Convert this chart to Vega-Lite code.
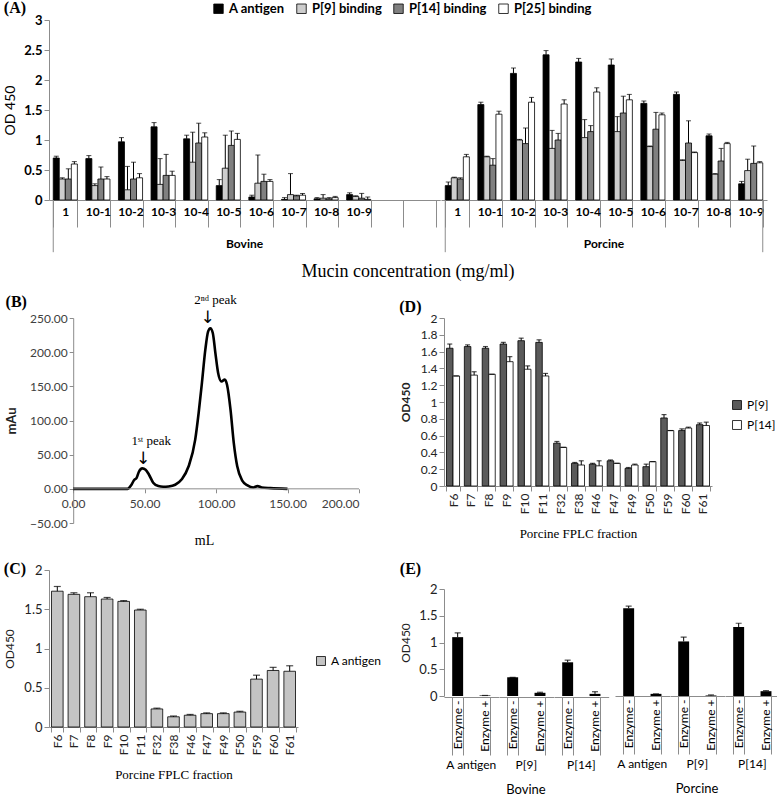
{
  "$schema": "https://vega.github.io/schema/vega-lite/v6.json",
  "background": "white",
  "padding": {"left": 3, "top": 0, "right": 2, "bottom": 2},
  "config": {
    "view": {"stroke": null},
    "font": "Lato",
    "axis": {"grid": false, "labelOverlap": false, "domainColor": "#8c8c8c", "tickColor": "#8c8c8c", "labelColor": "#222222", "titleColor": "#222222", "labelFont": "Lato", "titleFont": "Lato"},
    "title": {"font": "Liberation Serif", "fontSize": 16, "fontWeight": "bold", "anchor": "start", "frame": "bounds", "color": "#000000"},
    "legend": {"labelFont": "Lato", "labelColor": "#222222"}
  },
  "datasets": {
    "mucin": [
      {"species": "Bovine", "conc": "1", "series": "A antigen", "od": 0.70, "upper": 0.73},
      {"species": "Bovine", "conc": "1", "series": "P[9] binding", "od": 0.35, "upper": 0.37},
      {"species": "Bovine", "conc": "1", "series": "P[14] binding", "od": 0.35, "upper": 0.52},
      {"species": "Bovine", "conc": "1", "series": "P[25] binding", "od": 0.60, "upper": 0.64},
      {"species": "Bovine", "conc": "10-1", "series": "A antigen", "od": 0.69, "upper": 0.74},
      {"species": "Bovine", "conc": "10-1", "series": "P[9] binding", "od": 0.24, "upper": 0.27},
      {"species": "Bovine", "conc": "10-1", "series": "P[14] binding", "od": 0.35, "upper": 0.55},
      {"species": "Bovine", "conc": "10-1", "series": "P[25] binding", "od": 0.35, "upper": 0.39},
      {"species": "Bovine", "conc": "10-2", "series": "A antigen", "od": 0.97, "upper": 1.04},
      {"species": "Bovine", "conc": "10-2", "series": "P[9] binding", "od": 0.17, "upper": 0.56},
      {"species": "Bovine", "conc": "10-2", "series": "P[14] binding", "od": 0.35, "upper": 0.63},
      {"species": "Bovine", "conc": "10-2", "series": "P[25] binding", "od": 0.37, "upper": 0.44},
      {"species": "Bovine", "conc": "10-3", "series": "A antigen", "od": 1.22, "upper": 1.29},
      {"species": "Bovine", "conc": "10-3", "series": "P[9] binding", "od": 0.26, "upper": 0.69},
      {"species": "Bovine", "conc": "10-3", "series": "P[14] binding", "od": 0.41, "upper": 0.76},
      {"species": "Bovine", "conc": "10-3", "series": "P[25] binding", "od": 0.41, "upper": 0.48},
      {"species": "Bovine", "conc": "10-4", "series": "A antigen", "od": 1.02, "upper": 1.08},
      {"species": "Bovine", "conc": "10-4", "series": "P[9] binding", "od": 0.63, "upper": 1.13},
      {"species": "Bovine", "conc": "10-4", "series": "P[14] binding", "od": 0.95, "upper": 1.28},
      {"species": "Bovine", "conc": "10-4", "series": "P[25] binding", "od": 1.05, "upper": 1.12},
      {"species": "Bovine", "conc": "10-5", "series": "A antigen", "od": 0.24, "upper": 0.34},
      {"species": "Bovine", "conc": "10-5", "series": "P[9] binding", "od": 0.53, "upper": 1.08},
      {"species": "Bovine", "conc": "10-5", "series": "P[14] binding", "od": 0.91, "upper": 1.15},
      {"species": "Bovine", "conc": "10-5", "series": "P[25] binding", "od": 1.01, "upper": 1.11},
      {"species": "Bovine", "conc": "10-6", "series": "A antigen", "od": 0.05, "upper": 0.08},
      {"species": "Bovine", "conc": "10-6", "series": "P[9] binding", "od": 0.28, "upper": 0.75},
      {"species": "Bovine", "conc": "10-6", "series": "P[14] binding", "od": 0.31, "upper": 0.43},
      {"species": "Bovine", "conc": "10-6", "series": "P[25] binding", "od": 0.31, "upper": 0.34},
      {"species": "Bovine", "conc": "10-7", "series": "A antigen", "od": 0.01, "upper": 0.04},
      {"species": "Bovine", "conc": "10-7", "series": "P[9] binding", "od": 0.09, "upper": 0.44},
      {"species": "Bovine", "conc": "10-7", "series": "P[14] binding", "od": 0.07, "upper": 0.08},
      {"species": "Bovine", "conc": "10-7", "series": "P[25] binding", "od": 0.08, "upper": 0.11},
      {"species": "Bovine", "conc": "10-8", "series": "A antigen", "od": 0.02, "upper": 0.04},
      {"species": "Bovine", "conc": "10-8", "series": "P[9] binding", "od": 0.03, "upper": 0.09},
      {"species": "Bovine", "conc": "10-8", "series": "P[14] binding", "od": 0.02, "upper": 0.04},
      {"species": "Bovine", "conc": "10-8", "series": "P[25] binding", "od": 0.04, "upper": 0.06},
      {"species": "Bovine", "conc": "10-9", "series": "A antigen", "od": 0.09, "upper": 0.12},
      {"species": "Bovine", "conc": "10-9", "series": "P[9] binding", "od": 0.06, "upper": 0.07},
      {"species": "Bovine", "conc": "10-9", "series": "P[14] binding", "od": 0.03, "upper": 0.11},
      {"species": "Bovine", "conc": "10-9", "series": "P[25] binding", "od": 0.01, "upper": 0.05},
      {"species": "Bovine", "conc": " ", "series": null, "od": null, "upper": null},
      {"species": "Bovine", "conc": "  ", "series": null, "od": null, "upper": null},
      {"species": "Porcine", "conc": "1", "series": "A antigen", "od": 0.24, "upper": 0.30},
      {"species": "Porcine", "conc": "1", "series": "P[9] binding", "od": 0.37, "upper": 0.38},
      {"species": "Porcine", "conc": "1", "series": "P[14] binding", "od": 0.35, "upper": 0.37},
      {"species": "Porcine", "conc": "1", "series": "P[25] binding", "od": 0.72, "upper": 0.76},
      {"species": "Porcine", "conc": "10-1", "series": "A antigen", "od": 1.59, "upper": 1.63},
      {"species": "Porcine", "conc": "10-1", "series": "P[9] binding", "od": 0.72, "upper": 0.73},
      {"species": "Porcine", "conc": "10-1", "series": "P[14] binding", "od": 0.58, "upper": 0.69},
      {"species": "Porcine", "conc": "10-1", "series": "P[25] binding", "od": 1.43, "upper": 1.48},
      {"species": "Porcine", "conc": "10-2", "series": "A antigen", "od": 2.11, "upper": 2.20},
      {"species": "Porcine", "conc": "10-2", "series": "P[9] binding", "od": 1.00, "upper": 1.01},
      {"species": "Porcine", "conc": "10-2", "series": "P[14] binding", "od": 0.94, "upper": 1.20},
      {"species": "Porcine", "conc": "10-2", "series": "P[25] binding", "od": 1.63, "upper": 1.71},
      {"species": "Porcine", "conc": "10-3", "series": "A antigen", "od": 2.42, "upper": 2.49},
      {"species": "Porcine", "conc": "10-3", "series": "P[9] binding", "od": 0.86, "upper": 1.16},
      {"species": "Porcine", "conc": "10-3", "series": "P[14] binding", "od": 1.00, "upper": 1.11},
      {"species": "Porcine", "conc": "10-3", "series": "P[25] binding", "od": 1.60, "upper": 1.67},
      {"species": "Porcine", "conc": "10-4", "series": "A antigen", "od": 2.30, "upper": 2.36},
      {"species": "Porcine", "conc": "10-4", "series": "P[9] binding", "od": 1.04, "upper": 1.34},
      {"species": "Porcine", "conc": "10-4", "series": "P[14] binding", "od": 1.14, "upper": 1.24},
      {"species": "Porcine", "conc": "10-4", "series": "P[25] binding", "od": 1.80, "upper": 1.87},
      {"species": "Porcine", "conc": "10-5", "series": "A antigen", "od": 2.25, "upper": 2.35},
      {"species": "Porcine", "conc": "10-5", "series": "P[9] binding", "od": 1.14, "upper": 1.39},
      {"species": "Porcine", "conc": "10-5", "series": "P[14] binding", "od": 1.45, "upper": 1.73},
      {"species": "Porcine", "conc": "10-5", "series": "P[25] binding", "od": 1.67, "upper": 1.76},
      {"species": "Porcine", "conc": "10-6", "series": "A antigen", "od": 1.61, "upper": 1.65},
      {"species": "Porcine", "conc": "10-6", "series": "P[9] binding", "od": 0.89, "upper": 0.90},
      {"species": "Porcine", "conc": "10-6", "series": "P[14] binding", "od": 1.18, "upper": 1.46},
      {"species": "Porcine", "conc": "10-6", "series": "P[25] binding", "od": 1.42, "upper": 1.45},
      {"species": "Porcine", "conc": "10-7", "series": "A antigen", "od": 1.76, "upper": 1.80},
      {"species": "Porcine", "conc": "10-7", "series": "P[9] binding", "od": 0.66, "upper": 0.67},
      {"species": "Porcine", "conc": "10-7", "series": "P[14] binding", "od": 0.95, "upper": 1.32},
      {"species": "Porcine", "conc": "10-7", "series": "P[25] binding", "od": 0.79, "upper": 0.80},
      {"species": "Porcine", "conc": "10-8", "series": "A antigen", "od": 1.07, "upper": 1.10},
      {"species": "Porcine", "conc": "10-8", "series": "P[9] binding", "od": 0.43, "upper": 0.44},
      {"species": "Porcine", "conc": "10-8", "series": "P[14] binding", "od": 0.65, "upper": 0.86},
      {"species": "Porcine", "conc": "10-8", "series": "P[25] binding", "od": 0.94, "upper": 0.96},
      {"species": "Porcine", "conc": "10-9", "series": "A antigen", "od": 0.27, "upper": 0.31},
      {"species": "Porcine", "conc": "10-9", "series": "P[9] binding", "od": 0.49, "upper": 0.68},
      {"species": "Porcine", "conc": "10-9", "series": "P[14] binding", "od": 0.61, "upper": 0.90},
      {"species": "Porcine", "conc": "10-9", "series": "P[25] binding", "od": 0.62, "upper": 0.64}
    ],
    "fplc": [
      {"mL": 0, "mAu": 0}, {"mL": 20, "mAu": 0}, {"mL": 38, "mAu": 0}, {"mL": 40.8, "mAu": 6},
      {"mL": 42.7, "mAu": 13}, {"mL": 44.4, "mAu": 16}, {"mL": 46, "mAu": 25}, {"mL": 48.4, "mAu": 30},
      {"mL": 50.7, "mAu": 28}, {"mL": 53, "mAu": 21}, {"mL": 56, "mAu": 9}, {"mL": 59.6, "mAu": 4},
      {"mL": 63, "mAu": 3}, {"mL": 66.7, "mAu": 3.5}, {"mL": 71.4, "mAu": 6}, {"mL": 76, "mAu": 14},
      {"mL": 80.8, "mAu": 33}, {"mL": 85.4, "mAu": 72}, {"mL": 87.8, "mAu": 111}, {"mL": 90.1, "mAu": 155},
      {"mL": 92.5, "mAu": 204}, {"mL": 94.4, "mAu": 230}, {"mL": 96, "mAu": 235}, {"mL": 97.7, "mAu": 228},
      {"mL": 99.5, "mAu": 199}, {"mL": 101.4, "mAu": 170}, {"mL": 103.8, "mAu": 157}, {"mL": 106.1, "mAu": 160},
      {"mL": 107.7, "mAu": 152}, {"mL": 110.1, "mAu": 116}, {"mL": 112.4, "mAu": 67}, {"mL": 114.8, "mAu": 33},
      {"mL": 118.3, "mAu": 12}, {"mL": 122, "mAu": 5}, {"mL": 126, "mAu": 2}, {"mL": 129, "mAu": 4},
      {"mL": 132, "mAu": 2}, {"mL": 138, "mAu": 1}, {"mL": 150, "mAu": 0}
    ],
    "peaks": [
      {"label": "1ˢᵗ peak", "mL": 49, "mAu": 31},
      {"label": "2ⁿᵈ peak", "mL": 94, "mAu": 237}
    ],
    "fracA": [
      {"frac": "F6", "series": "A antigen", "od": 1.73, "upper": 1.79},
      {"frac": "F7", "series": "A antigen", "od": 1.69, "upper": 1.71},
      {"frac": "F8", "series": "A antigen", "od": 1.66, "upper": 1.71},
      {"frac": "F9", "series": "A antigen", "od": 1.63, "upper": 1.65},
      {"frac": "F10", "series": "A antigen", "od": 1.60, "upper": 1.61},
      {"frac": "F11", "series": "A antigen", "od": 1.49, "upper": 1.50},
      {"frac": "F32", "series": "A antigen", "od": 0.23, "upper": 0.24},
      {"frac": "F38", "series": "A antigen", "od": 0.13, "upper": 0.14},
      {"frac": "F46", "series": "A antigen", "od": 0.15, "upper": 0.16},
      {"frac": "F47", "series": "A antigen", "od": 0.17, "upper": 0.18},
      {"frac": "F49", "series": "A antigen", "od": 0.17, "upper": 0.18},
      {"frac": "F50", "series": "A antigen", "od": 0.19, "upper": 0.20},
      {"frac": "F59", "series": "A antigen", "od": 0.61, "upper": 0.66},
      {"frac": "F60", "series": "A antigen", "od": 0.72, "upper": 0.76},
      {"frac": "F61", "series": "A antigen", "od": 0.71, "upper": 0.78}
    ],
    "fracP": [
      {"frac": "F6", "series": "P[9]", "od": 1.64, "upper": 1.69},
      {"frac": "F7", "series": "P[9]", "od": 1.66, "upper": 1.68},
      {"frac": "F8", "series": "P[9]", "od": 1.64, "upper": 1.66},
      {"frac": "F9", "series": "P[9]", "od": 1.69, "upper": 1.71},
      {"frac": "F10", "series": "P[9]", "od": 1.73, "upper": 1.76},
      {"frac": "F11", "series": "P[9]", "od": 1.71, "upper": 1.74},
      {"frac": "F32", "series": "P[9]", "od": 0.51, "upper": 0.53},
      {"frac": "F38", "series": "P[9]", "od": 0.27, "upper": 0.28},
      {"frac": "F46", "series": "P[9]", "od": 0.26, "upper": 0.27},
      {"frac": "F47", "series": "P[9]", "od": 0.30, "upper": 0.31},
      {"frac": "F49", "series": "P[9]", "od": 0.21, "upper": 0.22},
      {"frac": "F50", "series": "P[9]", "od": 0.23, "upper": 0.26},
      {"frac": "F59", "series": "P[9]", "od": 0.81, "upper": 0.85},
      {"frac": "F60", "series": "P[9]", "od": 0.66, "upper": 0.68},
      {"frac": "F61", "series": "P[9]", "od": 0.73, "upper": 0.75},
      {"frac": "F6", "series": "P[14]", "od": 1.31, "upper": 1.31},
      {"frac": "F7", "series": "P[14]", "od": 1.32, "upper": 1.36},
      {"frac": "F8", "series": "P[14]", "od": 1.33, "upper": 1.33},
      {"frac": "F9", "series": "P[14]", "od": 1.48, "upper": 1.54},
      {"frac": "F10", "series": "P[14]", "od": 1.39, "upper": 1.43},
      {"frac": "F11", "series": "P[14]", "od": 1.31, "upper": 1.34},
      {"frac": "F32", "series": "P[14]", "od": 0.46, "upper": 0.46},
      {"frac": "F38", "series": "P[14]", "od": 0.25, "upper": 0.30},
      {"frac": "F46", "series": "P[14]", "od": 0.24, "upper": 0.30},
      {"frac": "F47", "series": "P[14]", "od": 0.27, "upper": 0.27},
      {"frac": "F49", "series": "P[14]", "od": 0.25, "upper": 0.26},
      {"frac": "F50", "series": "P[14]", "od": 0.29, "upper": 0.29},
      {"frac": "F59", "series": "P[14]", "od": 0.66, "upper": 0.66},
      {"frac": "F60", "series": "P[14]", "od": 0.69, "upper": 0.70},
      {"frac": "F61", "series": "P[14]", "od": 0.72, "upper": 0.76}
    ],
    "enzyme": [
      {"species": "Bovine", "target": "A antigen", "enzyme": "Enzyme -", "od": 1.10, "upper": 1.18},
      {"species": "Bovine", "target": "A antigen", "enzyme": "Enzyme +", "od": 0.01, "upper": 0.01},
      {"species": "Bovine", "target": "P[9]", "enzyme": "Enzyme -", "od": 0.35, "upper": 0.35},
      {"species": "Bovine", "target": "P[9]", "enzyme": "Enzyme +", "od": 0.06, "upper": 0.07},
      {"species": "Bovine", "target": "P[14]", "enzyme": "Enzyme -", "od": 0.63, "upper": 0.67},
      {"species": "Bovine", "target": "P[14]", "enzyme": "Enzyme +", "od": 0.04, "upper": 0.08},
      {"species": "Porcine", "target": "A antigen", "enzyme": "Enzyme -", "od": 1.64, "upper": 1.68},
      {"species": "Porcine", "target": "A antigen", "enzyme": "Enzyme +", "od": 0.04, "upper": 0.04},
      {"species": "Porcine", "target": "P[9]", "enzyme": "Enzyme -", "od": 1.02, "upper": 1.10},
      {"species": "Porcine", "target": "P[9]", "enzyme": "Enzyme +", "od": 0.01, "upper": 0.02},
      {"species": "Porcine", "target": "P[14]", "enzyme": "Enzyme -", "od": 1.29, "upper": 1.36},
      {"species": "Porcine", "target": "P[14]", "enzyme": "Enzyme +", "od": 0.09, "upper": 0.10}
    ]
  },
  "spacing": 12,
  "resolve": {"scale": {"x": "independent", "y": "independent", "fill": "independent", "xOffset": "independent"}, "legend": {"fill": "independent"}},
  "vconcat": [
    {
      "data": {"name": "mucin"},
      "title": {"text": "(A)", "offset": -14},
      "facet": {"column": {"field": "species", "type": "nominal", "sort": ["Bovine", "Porcine"], "title": "Mucin concentration (mg/ml)",
        "header": {"labelOrient": "bottom", "titleOrient": "bottom", "labelFont": "Lato", "labelFontWeight": "bold", "labelFontSize": 12, "labelColor": "#000000", "labelPadding": -14, "titleFont": "Liberation Serif", "titleFontWeight": "normal", "titleFontSize": 18, "titleColor": "#000000", "titlePadding": 0}}},
      "spacing": {"row": 0, "column": 0},
      "resolve": {"scale": {"x": "independent", "xOffset": "independent"}, "axis": {"x": "independent"}},
      "spec": {
        "width": {"step": 32.6, "for": "position"},
        "height": 180,
        "layer": [
          {"mark": {"type": "bar", "opacity": 0},
           "encoding": {"x": {"field": "conc", "type": "nominal", "sort": ["1", "10-1", "10-2", "10-3", "10-4", "10-5", "10-6", "10-7", "10-8", "10-9", " ", "  "],
             "scale": {"type": "band", "paddingInner": 0.26, "paddingOuter": 0.13},
             "axis": {"title": null, "labelAngle": 0, "tickBand": "extent", "tickSize": 27, "labelPadding": -21, "labelFontWeight": "bold", "labelFontSize": 12, "labelColor": "#000000"}}}},
          {"transform": [{"filter": "isValid(datum.od)"}],
           "mark": {"type": "bar", "stroke": "#000000", "strokeWidth": 0.8},
           "encoding": {
             "x": {"field": "conc", "type": "nominal", "sort": ["1", "10-1", "10-2", "10-3", "10-4", "10-5", "10-6", "10-7", "10-8", "10-9", " ", "  "]},
             "xOffset": {"field": "series", "type": "nominal", "sort": ["A antigen", "P[9] binding", "P[14] binding", "P[25] binding"], "scale": {"paddingInner": 0, "paddingOuter": 0}},
             "y": {"field": "od", "type": "quantitative", "stack": null, "scale": {"domain": [0, 3], "nice": false},
               "axis": {"title": "OD 450", "values": [0, 0.5, 1, 1.5, 2, 2.5, 3], "tickCount": 20, "labelOverlap": false, "format": "~g", "labelFontWeight": "bold", "labelFontSize": 13, "labelColor": "#000000", "titleFontWeight": "normal", "titleFontSize": 14, "titleColor": "#000000", "tickSize": 5, "titlePadding": 6}},
             "fill": {"field": "series", "type": "nominal", "sort": ["A antigen", "P[9] binding", "P[14] binding", "P[25] binding"],
               "scale": {"domain": ["A antigen", "P[9] binding", "P[14] binding", "P[25] binding"], "range": ["#000000", "#cdcdcd", "#808080", "#ffffff"]},
               "legend": {"orient": "none", "legendX": 163, "legendY": -18, "direction": "horizontal", "title": null, "labelFontWeight": "bold", "labelFontSize": 13, "labelColor": "#000000", "symbolType": "square", "symbolSize": 90, "symbolStrokeColor": "#000000", "symbolStrokeWidth": 0.8, "columnPadding": 10, "labelOffset": 4}}
           }},
          {"transform": [{"filter": "isValid(datum.od)"}],
           "mark": {"type": "rule", "color": "#000000", "strokeWidth": 1},
           "encoding": {
             "x": {"field": "conc", "type": "nominal", "sort": ["1", "10-1", "10-2", "10-3", "10-4", "10-5", "10-6", "10-7", "10-8", "10-9", " ", "  "]},
             "xOffset": {"field": "series", "type": "nominal", "sort": ["A antigen", "P[9] binding", "P[14] binding", "P[25] binding"]},
             "y": {"field": "od", "type": "quantitative"},
             "y2": {"field": "upper"}}},
          {"transform": [{"filter": "isValid(datum.od)"}],
           "mark": {"type": "tick", "color": "#000000", "thickness": 1, "size": 5},
           "encoding": {
             "x": {"field": "conc", "type": "nominal", "sort": ["1", "10-1", "10-2", "10-3", "10-4", "10-5", "10-6", "10-7", "10-8", "10-9", " ", "  "]},
             "xOffset": {"field": "series", "type": "nominal", "sort": ["A antigen", "P[9] binding", "P[14] binding", "P[25] binding"]},
             "y": {"field": "upper", "type": "quantitative"}}},
          {"transform": [{"filter": "datum.conc == '1' && datum.series == 'A antigen'"}],
           "mark": {"type": "rule", "color": "#8c8c8c"},
           "encoding": {
             "x": {"field": "conc", "type": "nominal", "sort": ["1", "10-1", "10-2", "10-3", "10-4", "10-5", "10-6", "10-7", "10-8", "10-9", " ", "  "], "bandPosition": 0},
             "y": {"datum": 0}, "y2": {"datum": -0.87}}},
          {"transform": [{"filter": "datum.conc == '10-9' && datum.series == 'A antigen' && datum.species == 'Porcine'"}],
           "mark": {"type": "rule", "color": "#8c8c8c"},
           "encoding": {
             "x": {"field": "conc", "type": "nominal", "sort": ["1", "10-1", "10-2", "10-3", "10-4", "10-5", "10-6", "10-7", "10-8", "10-9", " ", "  "], "bandPosition": 1},
             "y": {"datum": 0}, "y2": {"datum": -0.87}}}
        ]
      }
    },
    {
      "spacing": 17,
      "resolve": {"scale": {"x": "independent", "y": "independent", "fill": "independent", "xOffset": "independent"}, "legend": {"fill": "independent"}},
      "hconcat": [
        {
          "spacing": 13,
          "resolve": {"scale": {"x": "independent", "y": "independent", "fill": "independent", "xOffset": "independent"}, "legend": {"fill": "independent"}},
          "vconcat": [
            {
              "title": {"text": "(B)", "offset": -16},
              "width": 310,
              "height": 205,
              "layer": [
                {"data": {"name": "fplc"},
                 "mark": {"type": "line", "color": "#000000", "strokeWidth": 2.6, "interpolate": "monotone"},
                 "encoding": {
                   "x": {"field": "mL", "type": "quantitative", "scale": {"domain": [-16.9, 200], "nice": false, "zero": false},
                     "axis": {"values": [0, 50, 100, 150, 200], "tickCount": 20, "labelOverlap": false, "format": ".2f", "offset": -34.2, "domain": false, "tickSize": 4, "labelPadding": 6, "labelFontSize": 12, "labelColor": "#404040", "title": "mL", "titleFont": "Liberation Serif", "titleFontWeight": "normal", "titleFontSize": 14, "titleColor": "#000000", "titlePadding": 24}},
                   "y": {"field": "mAu", "type": "quantitative", "scale": {"domain": [-50, 250], "nice": false},
                     "axis": {"values": [-50, 0, 50, 100, 150, 200, 250], "tickCount": 20, "labelOverlap": false, "format": ".2f", "offset": -24.2, "tickSize": 4, "labelFontSize": 12, "labelColor": "#404040", "title": "mAu", "titleFontWeight": "bold", "titleFontSize": 13, "titleColor": "#222222", "titlePadding": 11}}}},
                {"data": {"name": "fplc"},
                 "transform": [{"filter": "datum.mL == 0"}],
                 "mark": {"type": "rule", "color": "#8c8c8c"},
                 "encoding": {"x": {"datum": 0}, "x2": {"datum": 200}, "y": {"datum": 0}}},
                {"data": {"name": "peaks"},
                 "mark": {"type": "text", "text": "↓", "fontSize": 17, "baseline": "bottom", "dy": 0, "font": "DejaVu Sans"},
                 "encoding": {"x": {"field": "mL", "type": "quantitative"}, "y": {"field": "mAu", "type": "quantitative"}}},
                {"data": {"name": "peaks"},
                 "mark": {"type": "text", "fontSize": 13, "baseline": "bottom", "dy": -20, "dx": 8, "font": "Liberation Serif", "color": "#000000"},
                 "encoding": {"x": {"field": "mL", "type": "quantitative"}, "y": {"field": "mAu", "type": "quantitative"}, "text": {"field": "label"}}}
              ]
            },
            {
              "data": {"name": "fracA"},
              "title": {"text": "(C)", "offset": -13},
              "width": 249,
              "height": 157,
              "layer": [
                {"mark": {"type": "bar", "stroke": "#000000", "strokeWidth": 0.8},
                 "encoding": {
                   "x": {"field": "frac", "type": "nominal", "sort": ["F6", "F7", "F8", "F9", "F10", "F11", "F32", "F38", "F46", "F47", "F49", "F50", "F59", "F60", "F61"],
                     "scale": {"paddingInner": 0.3, "paddingOuter": 0.15},
                     "axis": {"title": "Porcine FPLC fraction", "labelAngle": -90, "tickBand": "extent", "tickSize": 5, "labelFontSize": 12, "labelColor": "#222222", "titleFont": "Liberation Serif", "titleFontWeight": "normal", "titleFontSize": 13, "titleColor": "#000000", "titlePadding": 14}},
                   "y": {"field": "od", "type": "quantitative", "scale": {"domain": [0, 2], "nice": false},
                     "axis": {"title": "OD450", "values": [0, 0.5, 1, 1.5, 2], "tickCount": 20, "labelOverlap": false, "format": "~g", "tickSize": 5, "labelFontSize": 13, "titleFontWeight": "normal", "titleFontSize": 12, "titlePadding": 7}},
                   "fill": {"field": "series", "type": "nominal", "scale": {"range": ["#c4c4c4"]},
                     "legend": {"orient": "none", "legendX": 266, "legendY": 85, "title": null, "labelFontSize": 12, "labelColor": "#000000", "symbolType": "square", "symbolSize": 80, "symbolStrokeColor": "#000000", "symbolStrokeWidth": 0.8, "labelOffset": 4}}}},
                {"mark": {"type": "rule", "color": "#000000"},
                 "encoding": {"x": {"field": "frac", "type": "nominal", "sort": ["F6", "F7", "F8", "F9", "F10", "F11", "F32", "F38", "F46", "F47", "F49", "F50", "F59", "F60", "F61"]}, "y": {"field": "od", "type": "quantitative"}, "y2": {"field": "upper"}}},
                {"mark": {"type": "tick", "color": "#000000", "thickness": 1.2, "size": 7},
                 "encoding": {"x": {"field": "frac", "type": "nominal", "sort": ["F6", "F7", "F8", "F9", "F10", "F11", "F32", "F38", "F46", "F47", "F49", "F50", "F59", "F60", "F61"]}, "y": {"field": "upper", "type": "quantitative"}}}
              ]
            }
          ]
        },
        {
          "spacing": 20,
          "resolve": {"scale": {"x": "independent", "y": "independent", "fill": "independent", "xOffset": "independent"}, "legend": {"fill": "independent"}},
          "vconcat": [
            {
              "data": {"name": "fracP"},
              "title": {"text": "(D)", "offset": -3},
              "width": 268,
              "height": 168,
              "layer": [
                {"mark": {"type": "bar", "stroke": "#000000", "strokeWidth": 0.8},
                 "encoding": {
                   "x": {"field": "frac", "type": "nominal", "sort": ["F6", "F7", "F8", "F9", "F10", "F11", "F32", "F38", "F46", "F47", "F49", "F50", "F59", "F60", "F61"],
                     "scale": {"paddingInner": 0.27, "paddingOuter": 0.14},
                     "axis": {"title": "Porcine FPLC fraction", "labelAngle": -90, "tickBand": "extent", "tickSize": 5, "labelFontSize": 12, "labelColor": "#222222", "titleFont": "Liberation Serif", "titleFontWeight": "normal", "titleFontSize": 13, "titleColor": "#000000", "titlePadding": 14}},
                   "xOffset": {"field": "series", "type": "nominal", "sort": ["P[9]", "P[14]"], "scale": {"paddingInner": 0, "paddingOuter": 0}},
                   "y": {"field": "od", "type": "quantitative", "stack": null, "scale": {"domain": [0, 2], "nice": false},
                     "axis": {"title": "OD450", "values": [0, 0.2, 0.4, 0.6, 0.8, 1, 1.2, 1.4, 1.6, 1.8, 2], "tickCount": 20, "labelOverlap": false, "format": "~g", "tickSize": 5, "labelFontSize": 12, "titleFontWeight": "bold", "titleFontSize": 12, "titlePadding": 8}},
                   "fill": {"field": "series", "type": "nominal", "sort": ["P[9]", "P[14]"], "scale": {"domain": ["P[9]", "P[14]"], "range": ["#5a5a5a", "#ffffff"]},
                     "legend": {"orient": "none", "legendX": 287, "legendY": 81, "title": null, "labelFontSize": 12, "labelColor": "#000000", "symbolType": "square", "symbolSize": 80, "symbolStrokeColor": "#000000", "symbolStrokeWidth": 0.8, "labelOffset": 4, "rowPadding": 6}}}},
                {"mark": {"type": "rule", "color": "#000000"},
                 "encoding": {"x": {"field": "frac", "type": "nominal", "sort": ["F6", "F7", "F8", "F9", "F10", "F11", "F32", "F38", "F46", "F47", "F49", "F50", "F59", "F60", "F61"]},
                   "xOffset": {"field": "series", "type": "nominal", "sort": ["P[9]", "P[14]"]},
                   "y": {"field": "od", "type": "quantitative"}, "y2": {"field": "upper"}}},
                {"mark": {"type": "tick", "color": "#000000", "thickness": 1.2, "size": 5},
                 "encoding": {"x": {"field": "frac", "type": "nominal", "sort": ["F6", "F7", "F8", "F9", "F10", "F11", "F32", "F38", "F46", "F47", "F49", "F50", "F59", "F60", "F61"]},
                   "xOffset": {"field": "series", "type": "nominal", "sort": ["P[9]", "P[14]"]},
                   "y": {"field": "upper", "type": "quantitative"}}}
              ]
            },
            {
              "title": {"text": "(E)", "offset": 6},
              "spacing": 0,
              "hconcat": [
                {
                  "data": {"name": "enzyme"},
                  "transform": [{"filter": "datum.species == 'Bovine'"}],
                  "facet": {"column": {"field": "target", "type": "nominal", "sort": ["A antigen", "P[9]", "P[14]"], "title": "Bovine",
                    "header": {"labelOrient": "bottom", "titleOrient": "bottom", "labelFont": "Lato", "labelFontSize": 12, "labelColor": "#000000", "labelPadding": 4, "titleFont": "Lato", "titleFontWeight": "normal", "titleFontSize": 13, "titleColor": "#000000", "titlePadding": 3}}},
                  "spacing": {"row": 0, "column": 0},
                  "spec": {
                    "width": {"step": 27.33},
                    "height": 107,
                    "layer": [
                      {"mark": {"type": "bar", "color": "#000000"},
                       "encoding": {
                         "x": {"field": "enzyme", "type": "nominal", "sort": ["Enzyme -", "Enzyme +"], "scale": {"paddingInner": 0.6, "paddingOuter": 0.3},
                           "axis": {"title": null, "labelAngle": -90, "tickBand": "extent", "tickSize": 58, "labelPadding": -55, "labelFontSize": 12, "labelColor": "#000000"}},
                         "y": {"field": "od", "type": "quantitative", "scale": {"domain": [0, 2], "nice": false},
                           "axis": {"title": "OD450", "values": [0, 0.5, 1, 1.5, 2], "tickCount": 20, "labelOverlap": false, "format": "~g", "tickSize": 5, "labelFontSize": 13, "titleFontWeight": "normal", "titleFontSize": 12, "titlePadding": 6}}}},
                      {"mark": {"type": "rule", "color": "#000000"},
                       "encoding": {"x": {"field": "enzyme", "type": "nominal", "sort": ["Enzyme -", "Enzyme +"]}, "y": {"field": "od", "type": "quantitative"}, "y2": {"field": "upper"}}},
                      {"mark": {"type": "tick", "color": "#000000", "thickness": 1.2, "size": 6},
                       "encoding": {"x": {"field": "enzyme", "type": "nominal", "sort": ["Enzyme -", "Enzyme +"]}, "y": {"field": "upper", "type": "quantitative"}}}
                    ]
                  }
                },
                {
                  "data": {"name": "enzyme"},
                  "transform": [{"filter": "datum.species == 'Porcine'"}],
                  "facet": {"column": {"field": "target", "type": "nominal", "sort": ["A antigen", "P[9]", "P[14]"], "title": "Porcine",
                    "header": {"labelOrient": "bottom", "titleOrient": "bottom", "labelFont": "Lato", "labelFontSize": 12, "labelColor": "#000000", "labelPadding": 4, "titleFont": "Lato", "titleFontWeight": "normal", "titleFontSize": 13, "titleColor": "#000000", "titlePadding": 3}}},
                  "spacing": {"row": 0, "column": 0},
                  "spec": {
                    "width": {"step": 27.33},
                    "height": 107,
                    "layer": [
                      {"mark": {"type": "bar", "color": "#000000"},
                       "encoding": {
                         "x": {"field": "enzyme", "type": "nominal", "sort": ["Enzyme -", "Enzyme +"], "scale": {"paddingInner": 0.6, "paddingOuter": 0.3},
                           "axis": {"title": null, "labelAngle": -90, "tickBand": "extent", "tickSize": 58, "labelPadding": -55, "labelFontSize": 12, "labelColor": "#000000"}},
                         "y": {"field": "od", "type": "quantitative", "scale": {"domain": [0, 2], "nice": false}, "axis": null}}},
                      {"mark": {"type": "rule", "color": "#000000"},
                       "encoding": {"x": {"field": "enzyme", "type": "nominal", "sort": ["Enzyme -", "Enzyme +"]}, "y": {"field": "od", "type": "quantitative"}, "y2": {"field": "upper"}}},
                      {"mark": {"type": "tick", "color": "#000000", "thickness": 1.2, "size": 6},
                       "encoding": {"x": {"field": "enzyme", "type": "nominal", "sort": ["Enzyme -", "Enzyme +"]}, "y": {"field": "upper", "type": "quantitative"}}}
                    ]
                  }
                }
              ]
            }
          ]
        }
      ]
    }
  ]
}
